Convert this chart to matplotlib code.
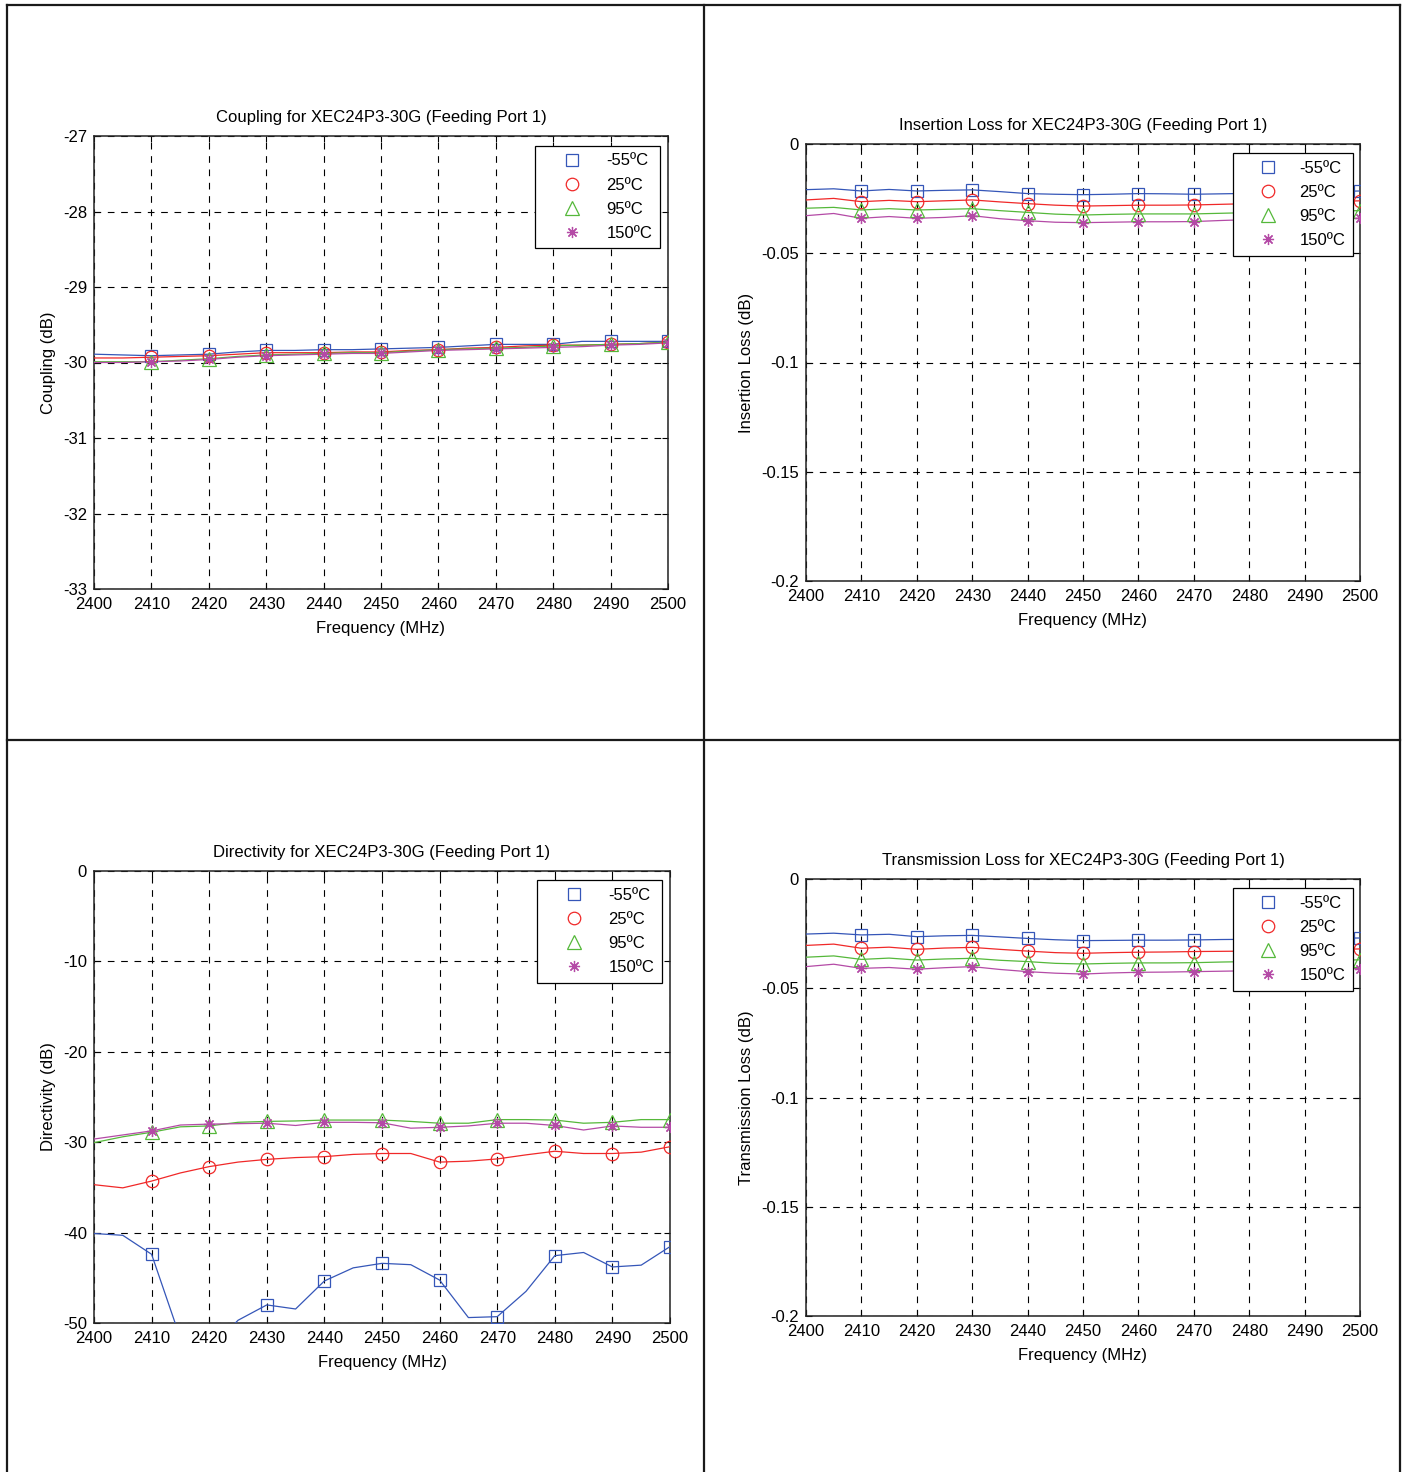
import matplotlib
matplotlib.use("Agg")
import matplotlib.pyplot as plt
from matplotlib.lines import Line2D
import numpy as np

plt.rcParams['font.family'] = ['Liberation Sans', 'DejaVu Sans']
plt.rcParams['font.size'] = 12

# frequency grid (line samples every 5 MHz, markers every 10 MHz from 2410)
freq = [2400, 2405, 2410, 2415, 2420, 2425, 2430, 2435, 2440, 2445, 2450,
        2455, 2460, 2465, 2470, 2475, 2480, 2485, 2490, 2495, 2500]
temps = ['-55ºC', '25ºC', '95ºC', '150ºC']

# Coupling (dB)
coup_m55 = [-29.89, -29.90, -29.91, -29.90, -29.89, -29.86, -29.84, -29.84, -29.83, -29.83, -29.82,
            -29.81, -29.80, -29.78, -29.76, -29.76, -29.76, -29.72, -29.72, -29.72, -29.72]
coup_25 = [-29.94, -29.94, -29.93, -29.92, -29.91, -29.89, -29.87, -29.87, -29.87, -29.86, -29.86,
           -29.84, -29.83, -29.81, -29.80, -29.78, -29.77, -29.77, -29.76, -29.75, -29.73]
coup_95 = [-29.99, -29.99, -29.99, -29.97, -29.95, -29.92, -29.90, -29.89, -29.88, -29.87, -29.87,
           -29.85, -29.83, -29.82, -29.81, -29.80, -29.78, -29.77, -29.76, -29.75, -29.73]
coup_150 = [-30.00, -30.00, -29.99, -29.98, -29.96, -29.93, -29.91, -29.90, -29.89, -29.88, -29.88,
            -29.86, -29.84, -29.83, -29.82, -29.81, -29.80, -29.79, -29.77, -29.76, -29.74]

# Insertion loss (dB)
il_m55 = [-0.0209, -0.0205, -0.0215, -0.0208, -0.0215, -0.0212, -0.0210, -0.0218, -0.0227, -0.0230, -0.0232,
          -0.0230, -0.0227, -0.0228, -0.0230, -0.0228, -0.0226, -0.0223, -0.0220, -0.0218, -0.0215]
il_25 = [-0.0256, -0.0249, -0.0264, -0.0258, -0.0264, -0.0260, -0.0256, -0.0265, -0.0273, -0.0280, -0.0284,
         -0.0282, -0.0280, -0.0280, -0.0279, -0.0276, -0.0273, -0.0270, -0.0268, -0.0264, -0.0260]
il_95 = [-0.0294, -0.0290, -0.0302, -0.0296, -0.0302, -0.0299, -0.0296, -0.0305, -0.0313, -0.0321, -0.0325,
         -0.0322, -0.0320, -0.0320, -0.0320, -0.0317, -0.0314, -0.0311, -0.0309, -0.0307, -0.0305]
il_150 = [-0.0328, -0.0318, -0.0340, -0.0332, -0.0340, -0.0336, -0.0328, -0.0342, -0.0351, -0.0358, -0.0360,
          -0.0358, -0.0356, -0.0356, -0.0355, -0.0350, -0.0346, -0.0344, -0.0343, -0.0341, -0.0340]

# Directivity (dB)
dir_m55 = [-40.1, -40.3, -42.4, -51.7, -53.0, -49.7, -48.0, -48.45, -45.35, -43.9, -43.4,
           -43.55, -45.25, -49.4, -49.3, -46.5, -42.55, -42.2, -43.8, -43.6, -41.55]
dir_25 = [-34.7, -35.05, -34.3, -33.4, -32.7, -32.2, -31.9, -31.7, -31.6, -31.35, -31.25,
          -31.25, -32.2, -32.1, -31.85, -31.4, -31.0, -31.25, -31.25, -31.1, -30.5]
dir_95 = [-30.05, -29.4, -28.9, -28.3, -28.2, -27.8, -27.7, -27.65, -27.55, -27.55, -27.55,
          -27.7, -27.9, -27.9, -27.5, -27.5, -27.55, -27.9, -27.8, -27.5, -27.5]
dir_150 = [-29.65, -29.2, -28.75, -28.1, -28.0, -27.95, -27.9, -28.15, -27.8, -27.8, -27.85,
           -28.45, -28.35, -28.2, -27.9, -27.9, -28.15, -28.65, -28.2, -28.35, -28.35]

# Transmission loss (dB)
tl_m55 = [-0.0252, -0.0248, -0.0256, -0.0253, -0.0264, -0.0260, -0.0258, -0.0265, -0.0272, -0.0278, -0.0282,
          -0.0281, -0.0280, -0.0280, -0.0279, -0.0277, -0.0276, -0.0274, -0.0272, -0.0271, -0.0270]
tl_25 = [-0.0304, -0.0298, -0.0317, -0.0312, -0.0322, -0.0316, -0.0313, -0.0322, -0.0330, -0.0337, -0.0340,
         -0.0337, -0.0335, -0.0334, -0.0332, -0.0331, -0.0330, -0.0327, -0.0325, -0.0323, -0.0320]
tl_95 = [-0.0358, -0.0352, -0.0368, -0.0362, -0.0371, -0.0366, -0.0363, -0.0372, -0.0378, -0.0386, -0.0389,
         -0.0386, -0.0384, -0.0384, -0.0383, -0.0380, -0.0378, -0.0376, -0.0374, -0.0372, -0.0370]
tl_150 = [-0.0401, -0.0390, -0.0409, -0.0405, -0.0413, -0.0406, -0.0401, -0.0414, -0.0424, -0.0431, -0.0435,
          -0.0430, -0.0427, -0.0426, -0.0424, -0.0422, -0.0420, -0.0417, -0.0415, -0.0412, -0.0410]

colors = ['#3556b8', '#f02828', '#55b83a', '#b44aa6']
markers = ['s', 'o', '^', (8, 2, 0)]
msizes = [9, 9, 10, 8]


def draw_panel(fig, rect, series, ylim, yticks, ytl, title, ylabel, leg_anchor, hlen):
    ax = fig.add_axes(rect)
    f = np.array(freq)
    for vals, c, m, s in zip(series, colors, markers, msizes):
        v = np.array(vals)
        ax.plot(f, v, color=c, lw=0.9, zorder=3)
        ax.plot(f[2::2], v[2::2], ls='none', marker=m, ms=s,
                mfc='none', mec=c, mew=0.9, zorder=4)
    ax.set_xlim(2400, 2500)
    ax.set_ylim(*ylim)
    ax.set_xticks(range(2400, 2501, 10))
    ax.set_yticks(yticks)
    ax.set_yticklabels(ytl)
    ax.grid(True, color='black', ls=(0, (6, 6)), lw=0.8)
    ax.tick_params(direction='in', length=4, width=0.8, top=True, right=True, labelsize=12)
    ax.tick_params(axis='x', pad=6)
    ax.tick_params(axis='y', pad=5)
    for s in ax.spines.values():
        s.set_linewidth(1.1)
        s.set_color('#222222')
    ax.set_title(title, fontsize=12, pad=10)
    ax.set_xlabel('Frequency (MHz)', fontsize=12, labelpad=6)
    ax.set_ylabel(ylabel, fontsize=12, labelpad=5)
    handles = [Line2D([], [], ls='none', marker=m, ms=s, mfc='none', mec=c, mew=0.9)
               for c, m, s in zip(colors, markers, msizes)]
    leg = ax.legend(handles, temps, loc='upper right', bbox_to_anchor=leg_anchor,
                    fontsize=12, frameon=True, fancybox=False, borderaxespad=0,
                    handlelength=hlen, handletextpad=0.25, labelspacing=0.55,
                    borderpad=0.45, framealpha=1)
    leg.get_frame().set_edgecolor('black')
    leg.get_frame().set_linewidth(0.9)
    leg.set_zorder(10)
    return ax


fig = plt.figure(figsize=(14.04, 14.72), dpi=100)
W, H = 1404.0, 1472.0


def rect(x0, x1, ytop, ybot):
    return [x0 / W, 1 - ybot / H, (x1 - x0) / W, (ybot - ytop) / H]


# table borders
for (xa, xb, ya, yb) in [(7, 7, 5, 1472), (1400, 1400, 5, 1472), (7, 1400, 5, 5),
                         (704, 704, 5, 1472), (7, 1400, 740, 740)]:
    fig.add_artist(Line2D([xa / W, xb / W], [1 - ya / H, 1 - yb / H], color='#1a1a1a', lw=1.6))

draw_panel(fig, rect(94, 668, 136, 589), [coup_m55, coup_25, coup_95, coup_150],
           (-33, -27), range(-33, -26), [str(v) for v in range(-33, -26)],
           'Coupling for XEC24P3-30G (Feeding Port 1)', 'Coupling (dB)', (0.986, 0.978), 3.6)

il_ticks = [-0.2, -0.15, -0.1, -0.05, 0]
il_labels = ['-0.2', '-0.15', '-0.1', '-0.05', '0']
draw_panel(fig, rect(806, 1360, 144, 581), [il_m55, il_25, il_95, il_150],
           (-0.2, 0), il_ticks, il_labels,
           'Insertion Loss for XEC24P3-30G (Feeding Port 1)', 'Insertion Loss (dB)', (0.987, 0.979), 3.3)

draw_panel(fig, rect(94, 670, 871, 1323), [dir_m55, dir_25, dir_95, dir_150],
           (-50, 0), range(-50, 1, 10), [str(v) for v in range(-50, 1, 10)],
           'Directivity for XEC24P3-30G (Feeding Port 1)', 'Directivity (dB)', (0.986, 0.98), 3.6)

draw_panel(fig, rect(806, 1360, 879, 1316), [tl_m55, tl_25, tl_95, tl_150],
           (-0.2, 0), il_ticks, il_labels,
           'Transmission Loss for XEC24P3-30G (Feeding Port 1)', 'Transmission Loss (dB)', (0.987, 0.979), 3.3)

fig.savefig('out.png', dpi=100)
